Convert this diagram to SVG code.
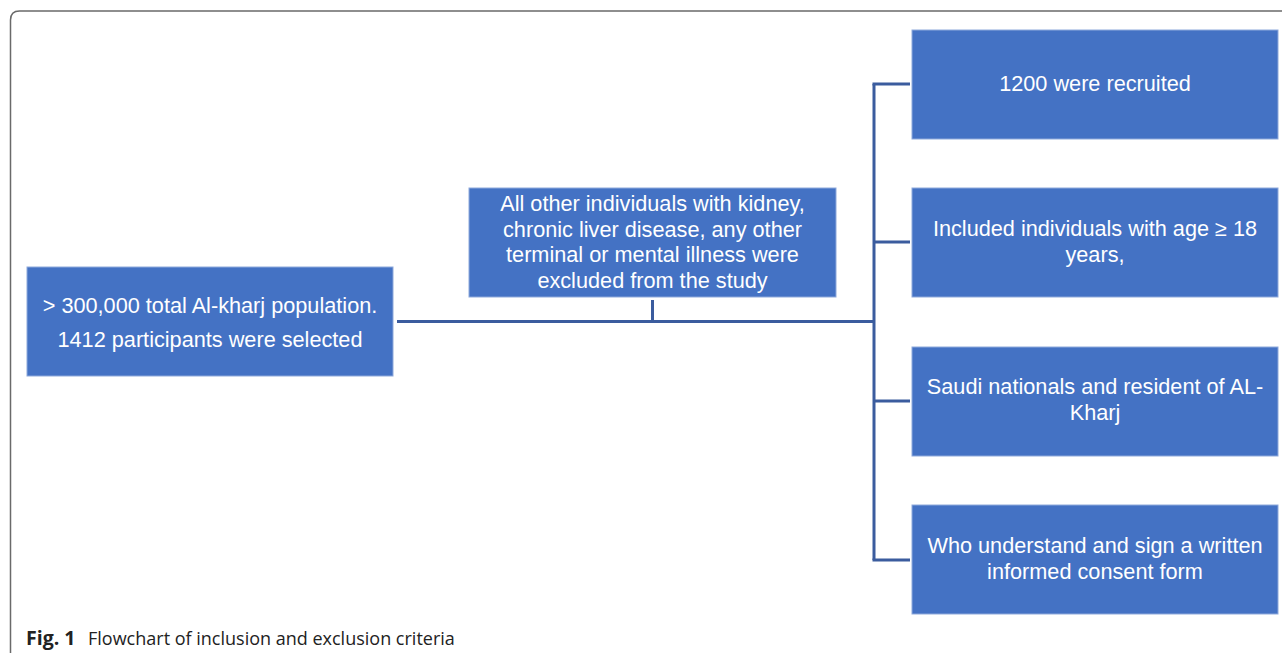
<svg xmlns="http://www.w3.org/2000/svg" width="1282" height="653" viewBox="0 0 1282 653">
<style>
.box{fill:#4472C4;stroke:#8EA9DB;stroke-width:1}
.t{font-family:"Liberation Sans",Arial,sans-serif;font-size:21.7px;fill:#ffffff;text-anchor:middle}
.c{stroke:#3B5C9E;stroke-width:3;fill:none}
.cap{font-family:"Open Sans","Noto Sans",sans-serif;font-size:18px;fill:#222}
</style>
<rect width="1282" height="653" fill="#ffffff"/>
<path d="M10.5 660 V20 Q10.5 11 19.5 11 H1290" fill="none" stroke="#6a6a6a" stroke-width="1.5"/>
<g id="connectors">
<path class="c" d="M397 321.5 H874"/>
<path class="c" d="M652.5 300 V321.5"/>
<path class="c" d="M874 84 V560"/>
<path class="c" d="M872.5 84 H910"/>
<path class="c" d="M874 242 H910"/>
<path class="c" d="M874 401 H910"/>
<path class="c" d="M872.5 560 H910"/>
</g>
<g id="n_population">
<rect class="box" x="27" y="267" width="366" height="109"/>
<text class="t" x="210" y="313">&gt; 300,000 total Al-kharj population.</text>
<text class="t" x="210" y="347">1412 participants were selected</text>
</g>
<g id="n_excluded">
<rect class="box" x="469" y="188" width="367" height="109"/>
<text class="t" x="652.5" y="211">All other individuals with kidney,</text>
<text class="t" x="652.5" y="237">chronic liver disease, any other</text>
<text class="t" x="652.5" y="262">terminal or mental illness were</text>
<text class="t" x="652.5" y="288">excluded from the study</text>
</g>
<g id="n_recruited">
<rect class="box" x="912" y="30" width="366" height="109"/>
<text class="t" x="1095" y="91">1200 were recruited</text>
</g>
<g id="n_age">
<rect class="box" x="912" y="188" width="366" height="109"/>
<text class="t" x="1095" y="236">Included individuals with age ≥ 18</text>
<text class="t" x="1095" y="262">years,</text>
</g>
<g id="n_saudi">
<rect class="box" x="912" y="347" width="366" height="109"/>
<text class="t" x="1095" y="394">Saudi nationals and resident of AL-</text>
<text class="t" x="1095" y="420">Kharj</text>
</g>
<g id="n_consent">
<rect class="box" x="912" y="505" width="366" height="109"/>
<text class="t" x="1095" y="553">Who understand and sign a written</text>
<text class="t" x="1095" y="579">informed consent form</text>
</g>
<text class="cap" x="26" y="645"><tspan font-weight="bold" font-size="19.5px">Fig. 1</tspan><tspan x="88">Flowchart of inclusion and exclusion criteria</tspan></text>
</svg>
